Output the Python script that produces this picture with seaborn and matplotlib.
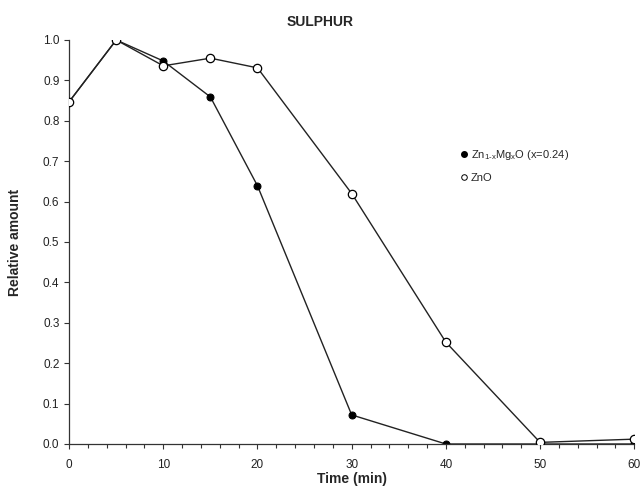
import numpy as np
import pandas as pd
import matplotlib
matplotlib.use("Agg")
import matplotlib.pyplot as plt
from matplotlib.lines import Line2D
from matplotlib.ticker import MultipleLocator, FormatStrFormatter
import seaborn as sns

time_min = [0, 5, 10, 15, 20, 30, 40, 50, 60]
znmgo = [0.847, 1.0, 0.948, 0.859, 0.639, 0.072, 0.0, 0.0, 0.0]
zno = [0.847, 1.0, 0.936, 0.955, 0.931, 0.620, 0.252, 0.004, 0.012]

sns.set_style("ticks")
plt.rcParams['font.family'] = ['Liberation Sans', 'DejaVu Sans']
plt.rcParams['mathtext.fontset'] = 'custom'
plt.rcParams['mathtext.rm'] = 'Liberation Sans'
plt.rcParams['mathtext.it'] = 'Liberation Sans'

df1 = pd.DataFrame({"t": time_min, "v": znmgo})
df2 = pd.DataFrame({"t": time_min, "v": zno})

fig = plt.figure(figsize=(6.4, 4.87), dpi=100)
ax = fig.add_axes([0.108, 0.0883, 0.883, 0.8296])

sns.lineplot(data=df1, x="t", y="v", ax=ax, color="#222222", lw=1.0,
             marker="o", markersize=5, markerfacecolor="black",
             markeredgecolor="black", zorder=2)
sns.lineplot(data=df2, x="t", y="v", ax=ax, color="#222222", lw=1.0,
             marker="o", markersize=6, markerfacecolor="white",
             markeredgecolor="black", markeredgewidth=0.9, zorder=3)

ax.set_xlim(0, 60)
ax.set_ylim(0, 1.0)
ax.xaxis.set_major_locator(MultipleLocator(10))
ax.xaxis.set_minor_locator(MultipleLocator(2))
ax.yaxis.set_major_locator(MultipleLocator(0.1))
ax.yaxis.set_major_formatter(FormatStrFormatter("%.1f"))
ax.tick_params(axis="both", which="major", labelsize=8.5, length=3.5,
               width=0.8, color="#333333", labelcolor="#222222")
ax.tick_params(axis="x", which="minor", length=3, width=0.8, color="#333333")
ax.tick_params(axis="x", pad=7)
for s in ["top", "right"]:
    ax.spines[s].set_visible(False)
for s in ["left", "bottom"]:
    ax.spines[s].set_linewidth(0.9)
    ax.spines[s].set_color("#333333")
    ax.spines[s].set_clip_on(False)

ax.set_xlabel("Time (min)", fontsize=10, fontweight="bold", labelpad=1)
ax.set_ylabel("Relative amount", fontsize=10, fontweight="bold", labelpad=15)
fig.text(0.5, 0.955, "SULPHUR", ha="center", va="center",
         fontsize=10, fontweight="bold")

handles = [
    Line2D([], [], ls="none", marker="o", markersize=4,
           markerfacecolor="black", markeredgecolor="black"),
    Line2D([], [], ls="none", marker="o", markersize=4,
           markerfacecolor="white", markeredgecolor="black", markeredgewidth=0.7),
]
labels = [r"Zn$_{\mathrm{1}\text{-}\mathrm{x}}$Mg$_{\mathrm{x}}$O (x=0.24)", "ZnO"]
ax.legend(handles, labels, loc="upper left", bbox_to_anchor=(0.71, 0.706),
          bbox_transform=fig.transFigure, frameon=False, fontsize=8,
          handletextpad=0.1, handlelength=1.0, labelspacing=1.0,
          borderaxespad=0)

fig.savefig("out.png", dpi=100)
